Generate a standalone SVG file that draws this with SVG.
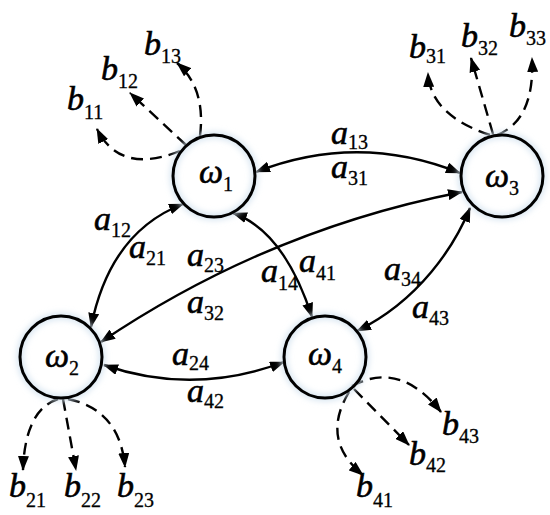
<svg xmlns="http://www.w3.org/2000/svg" width="550" height="515" viewBox="0 0 550 515">
<style>
.node{fill:none;stroke:#000;stroke-width:3}
.halo{fill:none;stroke:#d2e2ef;stroke-width:6}
.e{fill:none;stroke:#000;stroke-width:2.4}
.d{fill:none;stroke:#000;stroke-width:2.4;stroke-dasharray:12 7}
text{font-family:"Liberation Serif","Times New Roman",serif;font-style:italic;font-size:34px;fill:#000;stroke:#000;stroke-width:0.6}
.s{font-style:normal;font-size:20px;stroke-width:0.3}
</style>
<defs>
<marker id="ah" viewBox="0 0 15 11" refX="14" refY="5.5" markerWidth="15" markerHeight="11" markerUnits="userSpaceOnUse" orient="auto-start-reverse">
<path d="M0,0 L15,5.5 L0,11 z" fill="#000"/>
</marker>
<filter id="glow" x="-40%" y="-40%" width="180%" height="180%">
<feGaussianBlur stdDeviation="3"/>
</filter>
</defs>
<g id="connectors">
<path class="e" d="M256,172 Q358,132 460,173" marker-start="url(#ah)" marker-end="url(#ah)"/>
<path class="e" d="M101,342 Q267,230 462,192" marker-start="url(#ah)" marker-end="url(#ah)"/>
<path class="e" d="M183,204 Q110,232 91,327" marker-start="url(#ah)" marker-end="url(#ah)"/>
<path class="e" d="M233,213 Q284,231 312,317" marker-start="url(#ah)" marker-end="url(#ah)"/>
<path class="e" d="M470,208 C455,245 420,300 357,331" marker-start="url(#ah)" marker-end="url(#ah)"/>
<path class="e" d="M104,365 Q193,396 284,362" marker-start="url(#ah)" marker-end="url(#ah)"/>
<path class="d" d="M180,151 Q120,175 97,129" marker-end="url(#ah)"/>
<path class="d" d="M186,145 L130,93" marker-end="url(#ah)"/>
<path class="d" d="M200,136 Q206,88 177,63" marker-end="url(#ah)"/>
<path class="d" d="M490,135 Q430,115 428,73" marker-end="url(#ah)"/>
<path class="d" d="M493,134 L471,58" marker-end="url(#ah)"/>
<path class="d" d="M497,135 Q535,120 532,58" marker-end="url(#ah)"/>
<path class="d" d="M58,399 Q25,410 23,470" marker-end="url(#ah)"/>
<path class="d" d="M63,399 L76,470" marker-end="url(#ah)"/>
<path class="d" d="M68,399 Q120,410 125,467" marker-end="url(#ah)"/>
<path class="d" d="M352,386 Q400,360 441,412" marker-end="url(#ah)"/>
<path class="d" d="M354,389 L409,445" marker-end="url(#ah)"/>
<path class="d" d="M349,392 Q320,440 363,475" marker-end="url(#ah)"/>
</g>
<g id="w1">
<circle class="halo" cx="214" cy="176" r="41" filter="url(#glow)"/>
<circle class="node" cx="214" cy="176" r="41"/>
<text x="199" y="183">ω<tspan class="s" dy="8">1</tspan></text>
</g>
<g id="w2">
<circle class="halo" cx="61" cy="357" r="41" filter="url(#glow)"/>
<circle class="node" cx="61" cy="357" r="41"/>
<text x="45" y="367">ω<tspan class="s" dy="8">2</tspan></text>
</g>
<g id="w3">
<circle class="halo" cx="502" cy="176" r="41" filter="url(#glow)"/>
<circle class="node" cx="502" cy="176" r="41"/>
<text x="485" y="187">ω<tspan class="s" dy="8">3</tspan></text>
</g>
<g id="w4">
<circle class="halo" cx="325" cy="357" r="41" filter="url(#glow)"/>
<circle class="node" cx="325" cy="357" r="41"/>
<text x="308" y="365">ω<tspan class="s" dy="8">4</tspan></text>
</g>
<g id="labels">
<text x="331" y="144">a<tspan class="s" dy="5">13</tspan></text>
<text x="331" y="178">a<tspan class="s" dy="7">31</tspan></text>
<text x="94" y="230">a<tspan class="s" dy="7">12</tspan></text>
<text x="129" y="258">a<tspan class="s" dy="7">21</tspan></text>
<text x="187" y="266">a<tspan class="s" dy="6">23</tspan></text>
<text x="187" y="313">a<tspan class="s" dy="7">32</tspan></text>
<text x="261" y="282">a<tspan class="s" dy="8">14</tspan></text>
<text x="299" y="272">a<tspan class="s" dy="8">41</tspan></text>
<text x="384" y="280">a<tspan class="s" dy="6">34</tspan></text>
<text x="412" y="318">a<tspan class="s" dy="7">43</tspan></text>
<text x="172" y="365">a<tspan class="s" dy="5">24</tspan></text>
<text x="187" y="402">a<tspan class="s" dy="6">42</tspan></text>
<text x="67" y="110">b<tspan class="s" dy="9">11</tspan></text>
<text x="101" y="80">b<tspan class="s" dy="8">12</tspan></text>
<text x="144" y="55">b<tspan class="s" dy="8">13</tspan></text>
<text x="409" y="58">b<tspan class="s" dy="5">31</tspan></text>
<text x="461" y="47">b<tspan class="s" dy="8">32</tspan></text>
<text x="509" y="37">b<tspan class="s" dy="8">33</tspan></text>
<text x="9" y="497">b<tspan class="s" dy="10">21</tspan></text>
<text x="64" y="497">b<tspan class="s" dy="10">22</tspan></text>
<text x="117" y="497">b<tspan class="s" dy="10">23</tspan></text>
<text x="442" y="435">b<tspan class="s" dy="8">43</tspan></text>
<text x="409" y="465">b<tspan class="s" dy="7">42</tspan></text>
<text x="356" y="497">b<tspan class="s" dy="10">41</tspan></text>
</g>
</svg>
